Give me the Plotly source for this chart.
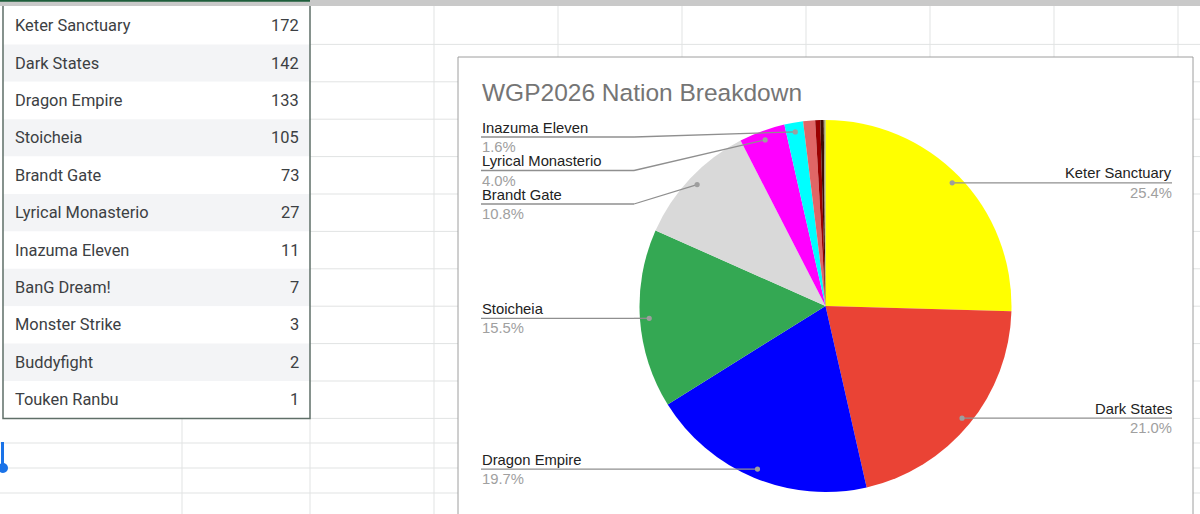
import math
import plotly.graph_objects as go

# ---------------- data ----------------
nations = ["Keter Sanctuary", "Dark States", "Dragon Empire", "Stoicheia", "Brandt Gate",
           "Lyrical Monasterio", "Inazuma Eleven", "BanG Dream!", "Monster Strike",
           "Buddyfight", "Touken Ranbu"]
counts = [172, 142, 133, 105, 73, 27, 11, 7, 3, 2, 1]
slice_colors = ["#ffff00", "#ea4335", "#0000ff", "#34a853", "#d9d9d9", "#ff00ff",
                "#00ffff", "#e06666", "#990000", "#3d0c02", "#a3a37a"]
chart_title = "WGP2026 Nation Breakdown"

# ---------------- layout helpers (pixel -> paper) ----------------
W, H = 1200, 514
def X(x): return x / W
def Y(y): return 1 - y / H

shapes = []
annotations = []
def line(x0, y0, x1, y1, color, width, layer="below"):
    shapes.append(dict(type="line", xref="paper", yref="paper", x0=X(x0), y0=Y(y0),
                       x1=X(x1), y1=Y(y1), line=dict(color=color, width=width), layer=layer))
def rect(x0, y0, x1, y1, fill, lc=None, lw=0, layer="below"):
    shapes.append(dict(type="rect", xref="paper", yref="paper", x0=X(x0), y0=Y(y0),
                       x1=X(x1), y1=Y(y1), fillcolor=fill,
                       line=dict(color=lc or fill, width=lw), layer=layer))
def circle(cx, cy, r, fill, layer="above"):
    shapes.append(dict(type="circle", xref="paper", yref="paper", x0=X(cx - r), y0=Y(cy - r),
                       x1=X(cx + r), y1=Y(cy + r), fillcolor=fill,
                       line=dict(color=fill, width=0), layer=layer))
def text(x, y, s, size, color, family, xanchor="left"):
    annotations.append(dict(xref="paper", yref="paper", x=X(x), y=Y(y), text=s,
                            showarrow=False, xanchor=xanchor, yanchor="middle",
                            font=dict(size=size, color=color, family=family)))

GRID = "#e1e3e3"
row_top, row_h = 7, 37.4
n = len(nations)
table_bottom = row_top + n * row_h

# ---------------- spreadsheet grid ----------------
for i in range(1, n + 1):
    yy = row_top + i * row_h
    line(310, yy, W, yy, GRID, 1)
for yy in [443, 468, 493]:
    line(0, yy, W, yy, GRID, 1)
for xx in [182, 310]:
    line(xx, table_bottom, xx, H, GRID, 1)
line(434, 0, 434, H, GRID, 1)
for xx in [558, 682, 806, 930, 1054, 1178]:
    line(xx, 0, xx, 60, GRID, 1)

# ---------------- table ----------------
for i, (name, c) in enumerate(zip(nations, counts)):
    y0 = row_top + i * row_h
    rect(3, y0, 310, y0 + row_h, "#ffffff" if i % 2 == 0 else "#f3f4f6")
    text(12.5, y0 + row_h / 2, name, 16.4, "#3c4043", "Roboto")
    text(300.5, y0 + row_h / 2, str(c), 16.4, "#3c4043", "Roboto", "right")
rect(3, 4, 310, table_bottom, "rgba(0,0,0,0)", "#5f6f68", 1.5)
rect(0, 0, W, 6, "#c9c9c9")
line(0, 0.8, 310, 0.8, "#1e5e3b", 2)
line(2.5, 442, 2.5, 466, "#1a73e8", 3, "above")
circle(3, 468, 5, "#1a73e8")

# ---------------- chart box ----------------
rect(458, 57, 1193, H + 10, "#ffffff", "#9e9e9e", 1)
text(479.5, 92, chart_title, 24.5, "#757575", "Liberation Sans")

# ---------------- pie ----------------
cx, cy, R = 825.5, 306, 186
fig = go.Figure()
fig.add_trace(go.Pie(
    labels=nations, values=counts, sort=False, direction="clockwise", rotation=0,
    marker=dict(colors=slice_colors, line=dict(width=0)),
    textinfo="none", hoverinfo="skip", showlegend=False,
    domain=dict(x=[X(cx - R), X(cx + R)], y=[Y(cy + R), Y(cy - R)]),
))

# ---------------- leader labels ----------------
total = sum(counts)
ra = 0.95 * R
cum = 0
left, right = [], []
for name, c in zip(nations, counts):
    frac = c / total
    mid = cum + frac / 2
    cum += frac
    pct = frac * 100
    if pct < 1.5:
        continue
    th = 2 * math.pi * mid
    ax = cx + ra * math.sin(th)
    ay = cy - ra * math.cos(th)
    (right if math.sin(th) > 0 else left).append((ay, ax, name, pct))

LC = "#8f8f8f"
FS = 14.8
prev = -1e9
for ay, ax, name, pct in sorted(left):
    ly = max(ay, prev + 33.5, 137)
    prev = ly
    line(481, ly, 634, ly, LC, 1.3, "above")
    line(634, ly, ax, ay, LC, 1.3, "above")
    circle(ax, ay, 2.6, "#9e9e9e")
    text(479.5, ly - 9.5, name, FS, "#222222", "Liberation Sans")
    text(479.5, ly + 10, f"{pct:.1f}%", FS, "#a0a0a0", "Liberation Sans")
prev = -1e9
for ay, ax, name, pct in sorted(right):
    ly = max(ay, prev + 33.5, 137)
    prev = ly
    line(1172, ly, 1017, ly, LC, 1.3, "above")
    line(1017, ly, ax, ay, LC, 1.3, "above")
    circle(ax, ay, 2.6, "#9e9e9e")
    text(1173.5, ly - 9.5, name, FS, "#222222", "Liberation Sans", "right")
    text(1173.5, ly + 10, f"{pct:.1f}%", FS, "#a0a0a0", "Liberation Sans", "right")

fig.update_layout(
    width=W, height=H, margin=dict(l=0, r=0, t=0, b=0),
    paper_bgcolor="#ffffff", plot_bgcolor="#ffffff",
    shapes=shapes, annotations=annotations,
)
fig.write_html("out.html", config={"displayModeBar": False},
               post_script="document.body.style.margin='0';document.body.style.overflow='hidden';")
